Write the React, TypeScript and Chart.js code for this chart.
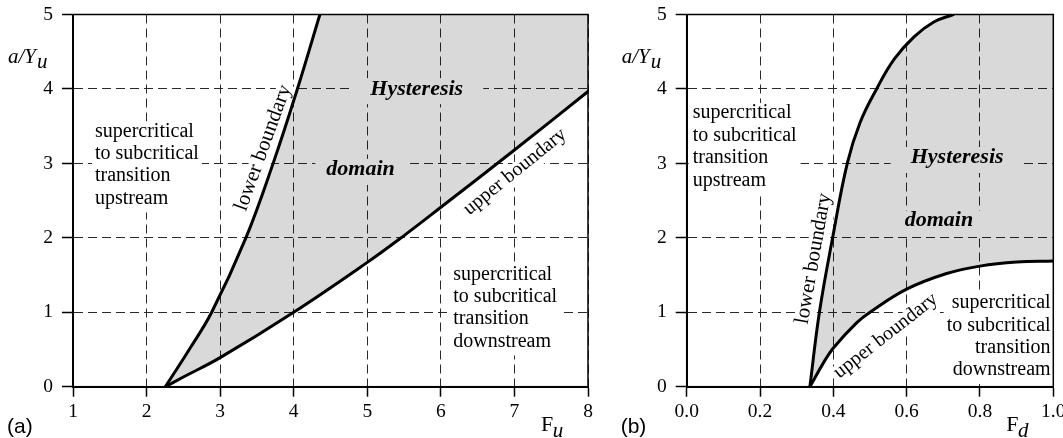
import React, { useEffect, useRef } from "react";
import { Chart, registerables } from "chart.js";
Chart.register(...registerables);

// ---------- data ----------
const yTicks = [0, 1, 2, 3, 4, 5];
const yTickLabels = ["0", "1", "2", "3", "4", "5"];

const xTicksA = [1, 2, 3, 4, 5, 6, 7, 8];
const xTickLabelsA = ["1", "2", "3", "4", "5", "6", "7", "8"];
const xTicksB = [0, 0.2, 0.4, 0.6, 0.8, 1.0];
const xTickLabelsB = ["0.0", "0.2", "0.4", "0.6", "0.8", "1.0"];

// panel (a): a/Yu versus Fu
const lowerAx = [2.256, 2.58, 2.885, 3.35, 3.72, 4.05, 4.356];
const lowerAy = [0, 0.5, 1.0, 2.0, 3.0, 4.0, 5.0];
const upperAx = [2.256, 2.5, 3.0, 4.0, 5.0, 5.5, 6.0, 7.0, 8.0];
const upperAy = [0, 0.13, 0.39, 1.0, 1.67, 2.03, 2.41, 3.18, 3.965];

// panel (b): a/Yu versus Fd
const lowerBx = [0.336, 0.362, 0.398, 0.438, 0.473, 0.518, 0.566, 0.62, 0.674, 0.727];
const lowerBy = [0, 1.0, 2.0, 3.0, 3.55, 4.0, 4.4, 4.7, 4.9, 5.0];
const upperBx = [0.336, 0.373, 0.4, 0.464, 0.5, 0.6, 0.709, 0.8, 0.9, 1.0];
const upperBy = [0, 0.32, 0.52, 0.86, 1.0, 1.31, 1.52, 1.62, 1.675, 1.69];

// ---------- styling ----------
const SERIF = '"Liberation Serif", "Times New Roman", serif';
const SANS = '"Liberation Sans", Arial, sans-serif';
const TXT = `20px ${SERIF}`;
const TXT_ROT = `21px ${SERIF}`;
const BOLDIT = `italic bold 22px ${SERIF}`;

type Block = {
  lines: string[];
  x: number;
  y: number;
  align: "left" | "right" | "center";
  font: string;
  fs: number;
  pitch: number;
  padX: number;
  padY: number;
  rot?: number;
};

type PanelSpec = {
  id: string;
  canvasLeft: number;
  canvasWidth: number;
  chartLeft: number;
  padRight: number;
  xMin: number;
  xMax: number;
  xTicks: number[];
  xTickLabels: string[];
  lowerX: number[];
  lowerY: number[];
  upperX: number[];
  upperY: number[];
  blocks: Block[];
  panelLabel: string;
  xSub: string;
};

const pts = (xs: number[], ys: number[]) => xs.map((x, i) => ({ x, y: ys[i] }));

function regionPolygon(lx: number[], ly: number[], ux: number[], uy: number[], xMax: number, yMax: number) {
  const L = pts(lx, ly);
  const U = pts(ux, uy).reverse();
  const lEnd = L[L.length - 1];
  const corner = { x: xMax, y: yMax };
  return [...L, { ...lEnd }, corner, { ...corner }, { ...U[0] }, ...U];
}

const annotPlugin = {
  id: "annot",
  beforeDatasetsDraw(chart: any, _a: any, opts: any) {
    const ctx = chart.ctx;
    const xs = chart.scales.x;
    const ys = chart.scales.y;
    for (const b of opts.blocks as Block[]) {
      const px = xs.getPixelForValue(b.x);
      const py = ys.getPixelForValue(b.y);
      ctx.save();
      ctx.translate(px, py);
      if (b.rot) ctx.rotate((b.rot * Math.PI) / 180);
      ctx.font = b.font;
      ctx.textBaseline = "middle";
      ctx.textAlign = b.align;
      const w = Math.max(...b.lines.map((l) => ctx.measureText(l).width));
      const x0 = b.align === "left" ? 0 : b.align === "right" ? -w : -w / 2;
      const top = -0.4 * b.fs - b.padY;
      const bottom = (b.lines.length - 1) * b.pitch + 0.6 * b.fs + b.padY;
      ctx.fillStyle = "#ffffff";
      ctx.fillRect(x0 - b.padX, top, w + 2 * b.padX, bottom - top);
      ctx.fillStyle = "#000000";
      b.lines.forEach((l, i) => ctx.fillText(l, 0, i * b.pitch));
      ctx.restore();
    }
  },
  afterDatasetsDraw(chart: any) {
    const { ctx, chartArea: a } = chart;
    ctx.save();
    ctx.strokeStyle = "#000";
    ctx.lineWidth = 1.5;
    ctx.strokeRect(a.left, a.top, a.right - a.left, a.bottom - a.top);
    ctx.restore();
  },
  afterDraw(chart: any, _a: any, opts: any) {
    const { ctx, chartArea: a } = chart;
    ctx.save();
    ctx.fillStyle = "#000";
    ctx.textBaseline = "alphabetic";
    ctx.textAlign = "left";
    // y-axis title a/Y_u
    ctx.font = `italic 21px ${SERIF}`;
    const yx = a.left - 65;
    const yb = a.top + 48.5;
    ctx.fillText("a/Y", yx, yb);
    const wy = ctx.measureText("a/Y").width;
    ctx.fillText("u", yx + wy + 1, yb + 5);
    // x-axis title F_sub
    ctx.font = `22px ${SERIF}`;
    const fx = a.right - 47;
    ctx.fillText("F", fx, 431);
    const wf = ctx.measureText("F").width;
    ctx.font = `italic 21px ${SERIF}`;
    ctx.fillText(opts.xSub, fx + wf - 0.5, 436.5);
    // panel label
    ctx.font = `21px ${SANS}`;
    ctx.fillText(opts.panelLabel, a.left - 66, 433);
    ctx.restore();
  },
};

function buildConfig(p: PanelSpec): any {
  const poly = regionPolygon(p.lowerX, p.lowerY, p.upperX, p.upperY, p.xMax, yTicks[yTicks.length - 1]);
  const curve = (data: any[]) => ({
    data,
    showLine: true,
    fill: false,
    borderColor: "#000",
    borderWidth: 3,
    pointRadius: 0,
    tension: 0.4,
    borderCapStyle: "round",
    borderJoinStyle: "round",
  });
  const gridCommon = {
    color: "#2a2a2a",
    lineWidth: 1,
    tickColor: "#000",
    tickWidth: 1.5,
  };
  const tickFont = { family: SERIF, size: 19.5, lineHeight: 1.2 };
  return {
    type: "scatter",
    data: {
      datasets: [
        {
          data: poly,
          showLine: true,
          fill: "shape",
          backgroundColor: "rgba(0,0,0,0.15)",
          borderColor: "rgba(0,0,0,0)",
          borderWidth: 0,
          pointRadius: 0,
          tension: 0.4,
        },
        curve(pts(p.lowerX, p.lowerY)),
        curve(pts(p.upperX, p.upperY)),
      ],
    },
    options: {
      responsive: false,
      animation: false,
      events: [],
      layout: { padding: { left: 0, top: 14.5, right: p.padRight, bottom: 0 } },
      plugins: {
        legend: { display: false },
        tooltip: { enabled: false },
        annot: { blocks: p.blocks, panelLabel: p.panelLabel, xSub: p.xSub },
      },
      scales: {
        x: {
          type: "linear",
          min: p.xMin,
          max: p.xMax,
          afterBuildTicks(s: any) {
            s.ticks = p.xTicks.map((v) => ({ value: v }));
          },
          afterFit(s: any) {
            s.height = 51.3;
            s.paddingLeft = 0;
            s.paddingRight = 0;
          },
          ticks: {
            callback: (_v: any, i: number) => p.xTickLabels[i],
            font: tickFont,
            color: "#000",
            padding: 3,
            maxRotation: 0,
            autoSkip: false,
          },
          grid: { ...gridCommon, tickLength: 10 },
          border: { display: true, color: "#000", width: 2, dash: [9, 5] },
        },
        y: {
          type: "linear",
          min: yTicks[0],
          max: yTicks[yTicks.length - 1],
          afterBuildTicks(s: any) {
            s.ticks = yTicks.map((v) => ({ value: v }));
          },
          afterFit(s: any) {
            s.width = p.chartLeft;
            s.paddingTop = 0;
            s.paddingBottom = 0;
          },
          ticks: {
            callback: (_v: any, i: number) => yTickLabels[i],
            font: tickFont,
            color: "#000",
            padding: 9,
            autoSkip: false,
          },
          grid: { ...gridCommon, tickLength: 11 },
          border: { display: true, color: "#000", width: 2, dash: [9, 5] },
        },
      },
    },
    plugins: [annotPlugin],
  };
}

const upstream = ["supercritical", "to subcritical", "transition", "upstream"];
const downstream = ["supercritical", "to subcritical", "transition", "downstream"];

const panelA: PanelSpec = {
  id: "a",
  canvasLeft: 0,
  canvasWidth: 600,
  chartLeft: 73,
  padRight: 12,
  xMin: 1,
  xMax: 8,
  xTicks: xTicksA,
  xTickLabels: xTickLabelsA,
  lowerX: lowerAx,
  lowerY: lowerAy,
  upperX: upperAx,
  upperY: upperAy,
  panelLabel: "(a)",
  xSub: "u",
  blocks: [
    { lines: upstream, x: 1.299, y: 3.428, align: "left", font: TXT, fs: 20, pitch: 22.3, padX: 3, padY: 2 },
    { lines: downstream, x: 6.169, y: 1.507, align: "left", font: TXT, fs: 20, pitch: 22.3, padX: 3, padY: 2 },
    { lines: ["Hysteresis"], x: 5.672, y: 4.0, align: "center", font: BOLDIT, fs: 22, pitch: 22, padX: 20, padY: 2 },
    { lines: ["domain"], x: 4.908, y: 2.915, align: "center", font: BOLDIT, fs: 22, pitch: 22, padX: 11, padY: 2 },
    { lines: ["lower boundary"], x: 3.585, y: 3.207, align: "center", font: TXT_ROT, fs: 21, pitch: 21, padX: 2, padY: 0, rot: -70 },
    { lines: ["upper boundary"], x: 7.008, y: 2.888, align: "center", font: TXT, fs: 20, pitch: 20, padX: 2, padY: 0, rot: -39 },
  ],
};

const panelB: PanelSpec = {
  id: "b",
  canvasLeft: 600,
  canvasWidth: 463,
  chartLeft: 86.7,
  padRight: 9.7,
  xMin: 0,
  xMax: 1,
  xTicks: xTicksB,
  xTickLabels: xTickLabelsB,
  lowerX: lowerBx,
  lowerY: lowerBy,
  upperX: upperBx,
  upperY: upperBy,
  panelLabel: "(b)",
  xSub: "d",
  blocks: [
    { lines: upstream, x: 0.0164, y: 3.677, align: "left", font: TXT, fs: 20, pitch: 22.6, padX: 4, padY: 2 },
    { lines: downstream, x: 0.9926, y: 1.124, align: "right", font: TXT, fs: 20, pitch: 22.3, padX: 3, padY: 2 },
    { lines: ["Hysteresis"], x: 0.7377, y: 3.075, align: "center", font: BOLDIT, fs: 22, pitch: 22, padX: 20, padY: 2 },
    { lines: ["domain"], x: 0.688, y: 2.231, align: "center", font: BOLDIT, fs: 22, pitch: 22, padX: 8, padY: 1 },
    { lines: ["lower boundary"], x: 0.346, y: 1.72, align: "center", font: TXT_ROT, fs: 21, pitch: 21, padX: 2, padY: 0, rot: -80 },
    { lines: ["upper boundary"], x: 0.543, y: 0.684, align: "center", font: TXT, fs: 20, pitch: 20, padX: 2, padY: 0, rot: -38 },
  ],
};

function Panel({ spec }: { spec: PanelSpec }) {
  const ref = useRef<HTMLCanvasElement>(null);
  useEffect(() => {
    const chart = new Chart(ref.current as HTMLCanvasElement, buildConfig(spec));
    return () => chart.destroy();
  }, [spec]);
  return (
    <canvas
      ref={ref}
      width={spec.canvasWidth}
      height={438}
      style={{ position: "absolute", left: spec.canvasLeft, top: 0, width: spec.canvasWidth, height: 438 }}
    />
  );
}

export default function App() {
  return (
    <div style={{ position: "absolute", left: 0, top: 0, width: 1063, height: 438, background: "#fff", overflow: "hidden" }}>
      <Panel spec={panelA} />
      <Panel spec={panelB} />
    </div>
  );
}
